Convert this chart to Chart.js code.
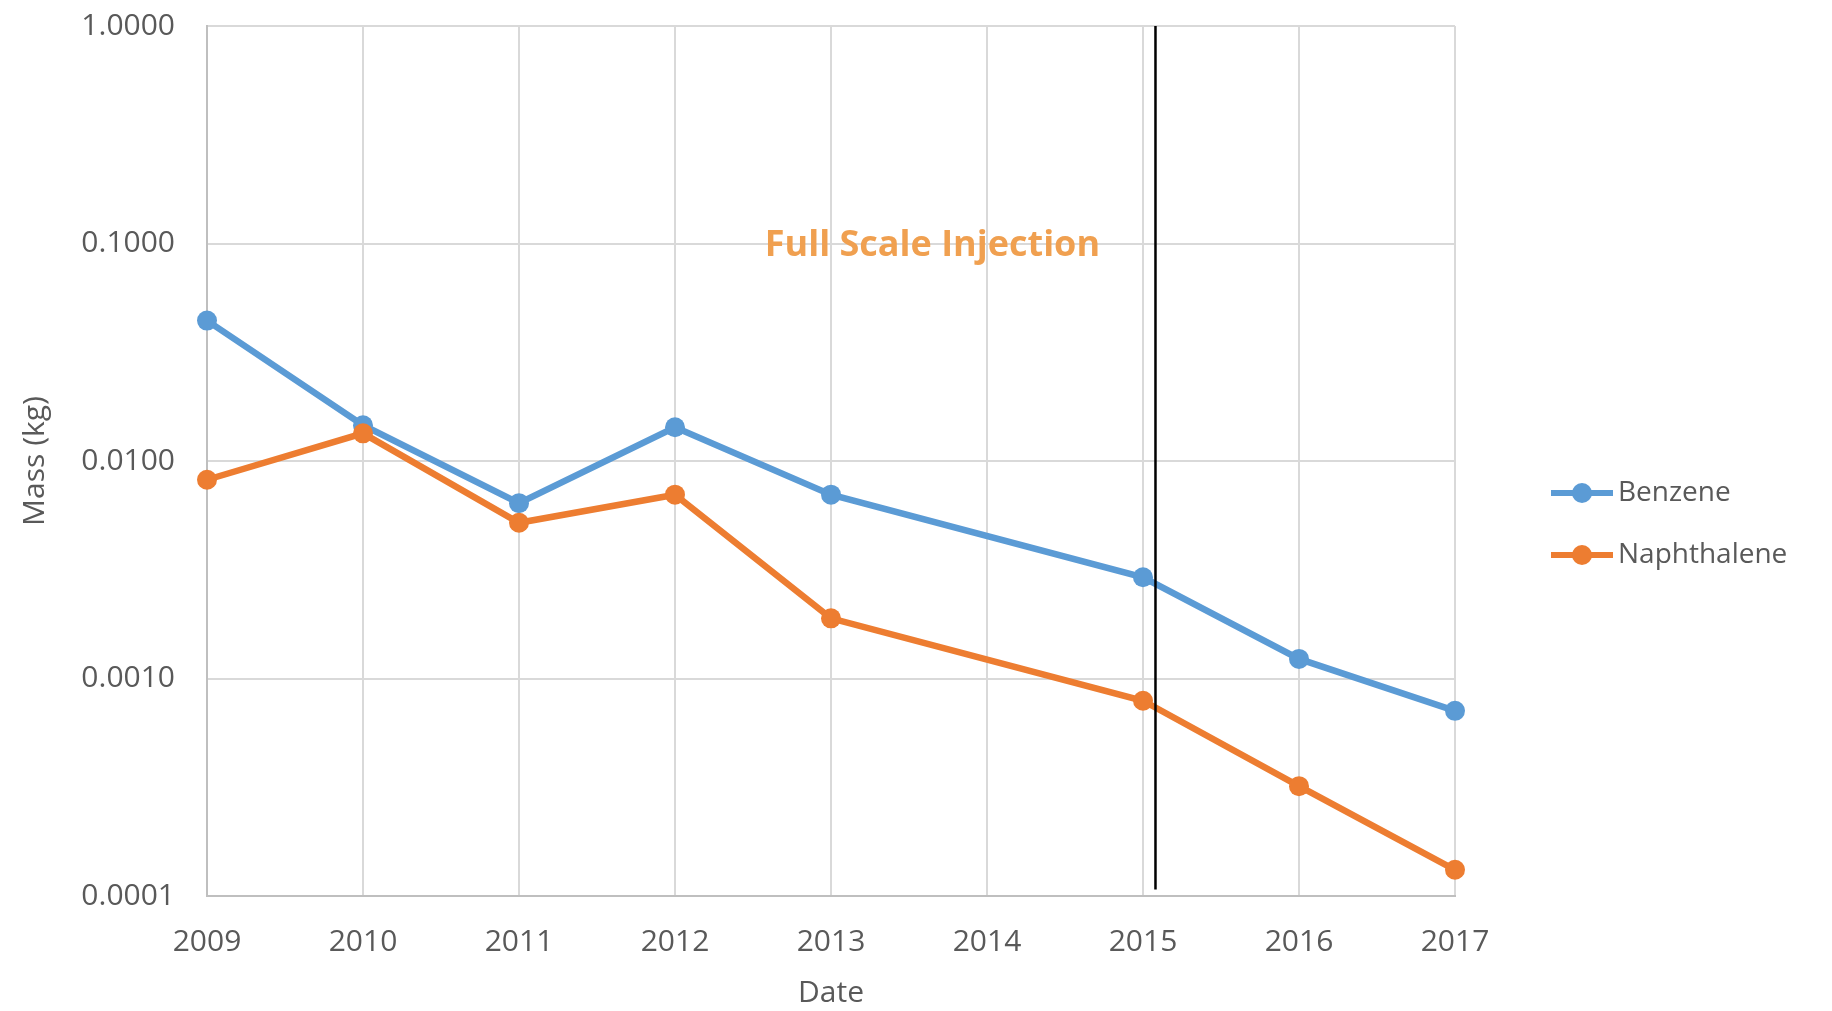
<!DOCTYPE html>
<html>
<head>
<meta charset="utf-8">
<title>Mass (kg) by year</title>
<script src="https://cdn.jsdelivr.net/npm/chart.js@4/dist/chart.umd.min.js"></script>
<style>
  html, body { margin: 0; padding: 0; background: #fff; }
  #wrap { width: 1832px; height: 1011px; position: relative; }
</style>
</head>
<body>
<div id="wrap"><canvas id="chart"></canvas></div>
<script>
  // Data (log scale, kg)
  const years = [2009, 2010, 2011, 2012, 2013, 2014, 2015, 2016, 2017];
  const benzene = [0.0442, 0.0146, 0.0064, 0.0143, 0.0070, null, 0.00292, 0.00123, 0.00071];
  const naphthalene = [0.0082, 0.0134, 0.0052, 0.0070, 0.00189, null, 0.00079, 0.00032, 0.000132];
  const yTicks = [0.0001, 0.001, 0.01, 0.1, 1];

  // Vertical marker for start of full scale injection
  const injectionX = 2015.08;
  const injectionY = [1, 0.000107];
  const noteText = 'Full Scale Injection';
  const notePos = { x: 2013.65, y: 0.098 };

  const tickFont = { family: "'Open Sans', sans-serif", size: 30 };
  const grey = '#595959';

  function toPoints(vals) {
    return years.map(function(yr, i) { return { x: yr, y: vals[i] }; });
  }

  // Legend drawn on the right, Excel style
  const sideLegend = {
    id: 'sideLegend',
    afterDraw: function(chart) {
      const ctx = chart.ctx;
      const area = chart.chartArea;
      const x0 = area.right + 96;
      const yStart = 493;
      const gap = 62;
      ctx.save();
      ctx.font = "28px 'Open Sans', sans-serif";
      ctx.textBaseline = 'middle';
      chart.data.datasets.filter(function(d) { return d.inLegend; }).forEach(function(ds, i) {
        const y = yStart + i * gap;
        ctx.strokeStyle = ds.borderColor;
        ctx.lineWidth = 6;
        ctx.beginPath();
        ctx.moveTo(x0, y);
        ctx.lineTo(x0 + 62, y);
        ctx.stroke();
        ctx.fillStyle = ds.borderColor;
        ctx.beginPath();
        ctx.arc(x0 + 31, y, 10, 0, Math.PI * 2);
        ctx.fill();
        ctx.fillStyle = grey;
        ctx.fillText(ds.label, x0 + 67, y);
      });
      ctx.restore();
    }
  };

  // Annotation text placed through the scales
  const noteLabel = {
    id: 'noteLabel',
    afterDatasetsDraw: function(chart) {
      const ctx = chart.ctx;
      const x = chart.scales.x.getPixelForValue(notePos.x);
      const y = chart.scales.y.getPixelForValue(notePos.y);
      ctx.save();
      ctx.font = "bold 36px 'Open Sans', sans-serif";
      ctx.fillStyle = '#f0a050';
      ctx.textAlign = 'center';
      ctx.textBaseline = 'middle';
      ctx.fillText(noteText, x, y);
      ctx.restore();
    }
  };

  new Chart(document.getElementById('chart'), {
    type: 'line',
    data: {
      datasets: [
        {
          label: 'Injection',
          data: [{ x: injectionX, y: injectionY[0] }, { x: injectionX, y: injectionY[1] }],
          borderColor: '#000000',
          borderWidth: 2.5,
          pointRadius: 0,
          clip: false,
          order: 0,
          inLegend: false
        },
        {
          label: 'Benzene',
          data: toPoints(benzene),
          borderColor: '#5b9bd5',
          backgroundColor: '#5b9bd5',
          borderWidth: 6.5,
          pointRadius: 10,
          pointBorderWidth: 0,
          spanGaps: true,
          clip: false,
          order: 2,
          inLegend: true
        },
        {
          label: 'Naphthalene',
          data: toPoints(naphthalene),
          borderColor: '#ed7d31',
          backgroundColor: '#ed7d31',
          borderWidth: 6.5,
          pointRadius: 10,
          pointBorderWidth: 0,
          spanGaps: true,
          clip: false,
          order: 1,
          inLegend: true
        }
      ]
    },
    options: {
      responsive: true,
      maintainAspectRatio: false,
      animation: false,
      layout: { padding: { top: 26, right: 377, bottom: 0, left: 0 } },
      plugins: {
        legend: { display: false },
        tooltip: { enabled: false }
      },
      scales: {
        x: {
          type: 'linear',
          min: years[0],
          max: years[years.length - 1],
          afterFit: function(scale) { scale.height = 115; },
          ticks: {
            stepSize: 1,
            font: tickFont,
            color: grey,
            padding: 28,
            maxRotation: 0,
            callback: function(v) { return String(v); }
          },
          grid: { color: '#d9d9d9', lineWidth: 2, drawTicks: false },
          border: { color: '#bfbfbf', width: 2 },
          title: {
            display: true,
            text: 'Date',
            font: tickFont,
            color: grey,
            padding: { top: 0, bottom: 0 }
          }
        },
        y: {
          type: 'logarithmic',
          min: yTicks[0],
          max: yTicks[yTicks.length - 1],
          afterFit: function(scale) {
            scale.width = 207;
            // tick padding would otherwise push the plot top down
            scale.paddingTop = 0;
            scale.paddingBottom = 0;
          },
          afterBuildTicks: function(scale) {
            scale.ticks = yTicks.map(function(v) { return { value: v }; });
          },
          ticks: {
            font: tickFont,
            color: grey,
            padding: 32,
            callback: function(v) { return Number(v).toFixed(4); }
          },
          grid: { color: '#d9d9d9', lineWidth: 2, drawTicks: false },
          border: { color: '#bfbfbf', width: 2 },
          title: {
            display: true,
            text: 'Mass (kg)',
            font: tickFont,
            color: grey,
            padding: { top: 17, bottom: 0 }
          }
        }
      }
    },
    plugins: [noteLabel, sideLegend]
  });
</script>
</body>
</html>
